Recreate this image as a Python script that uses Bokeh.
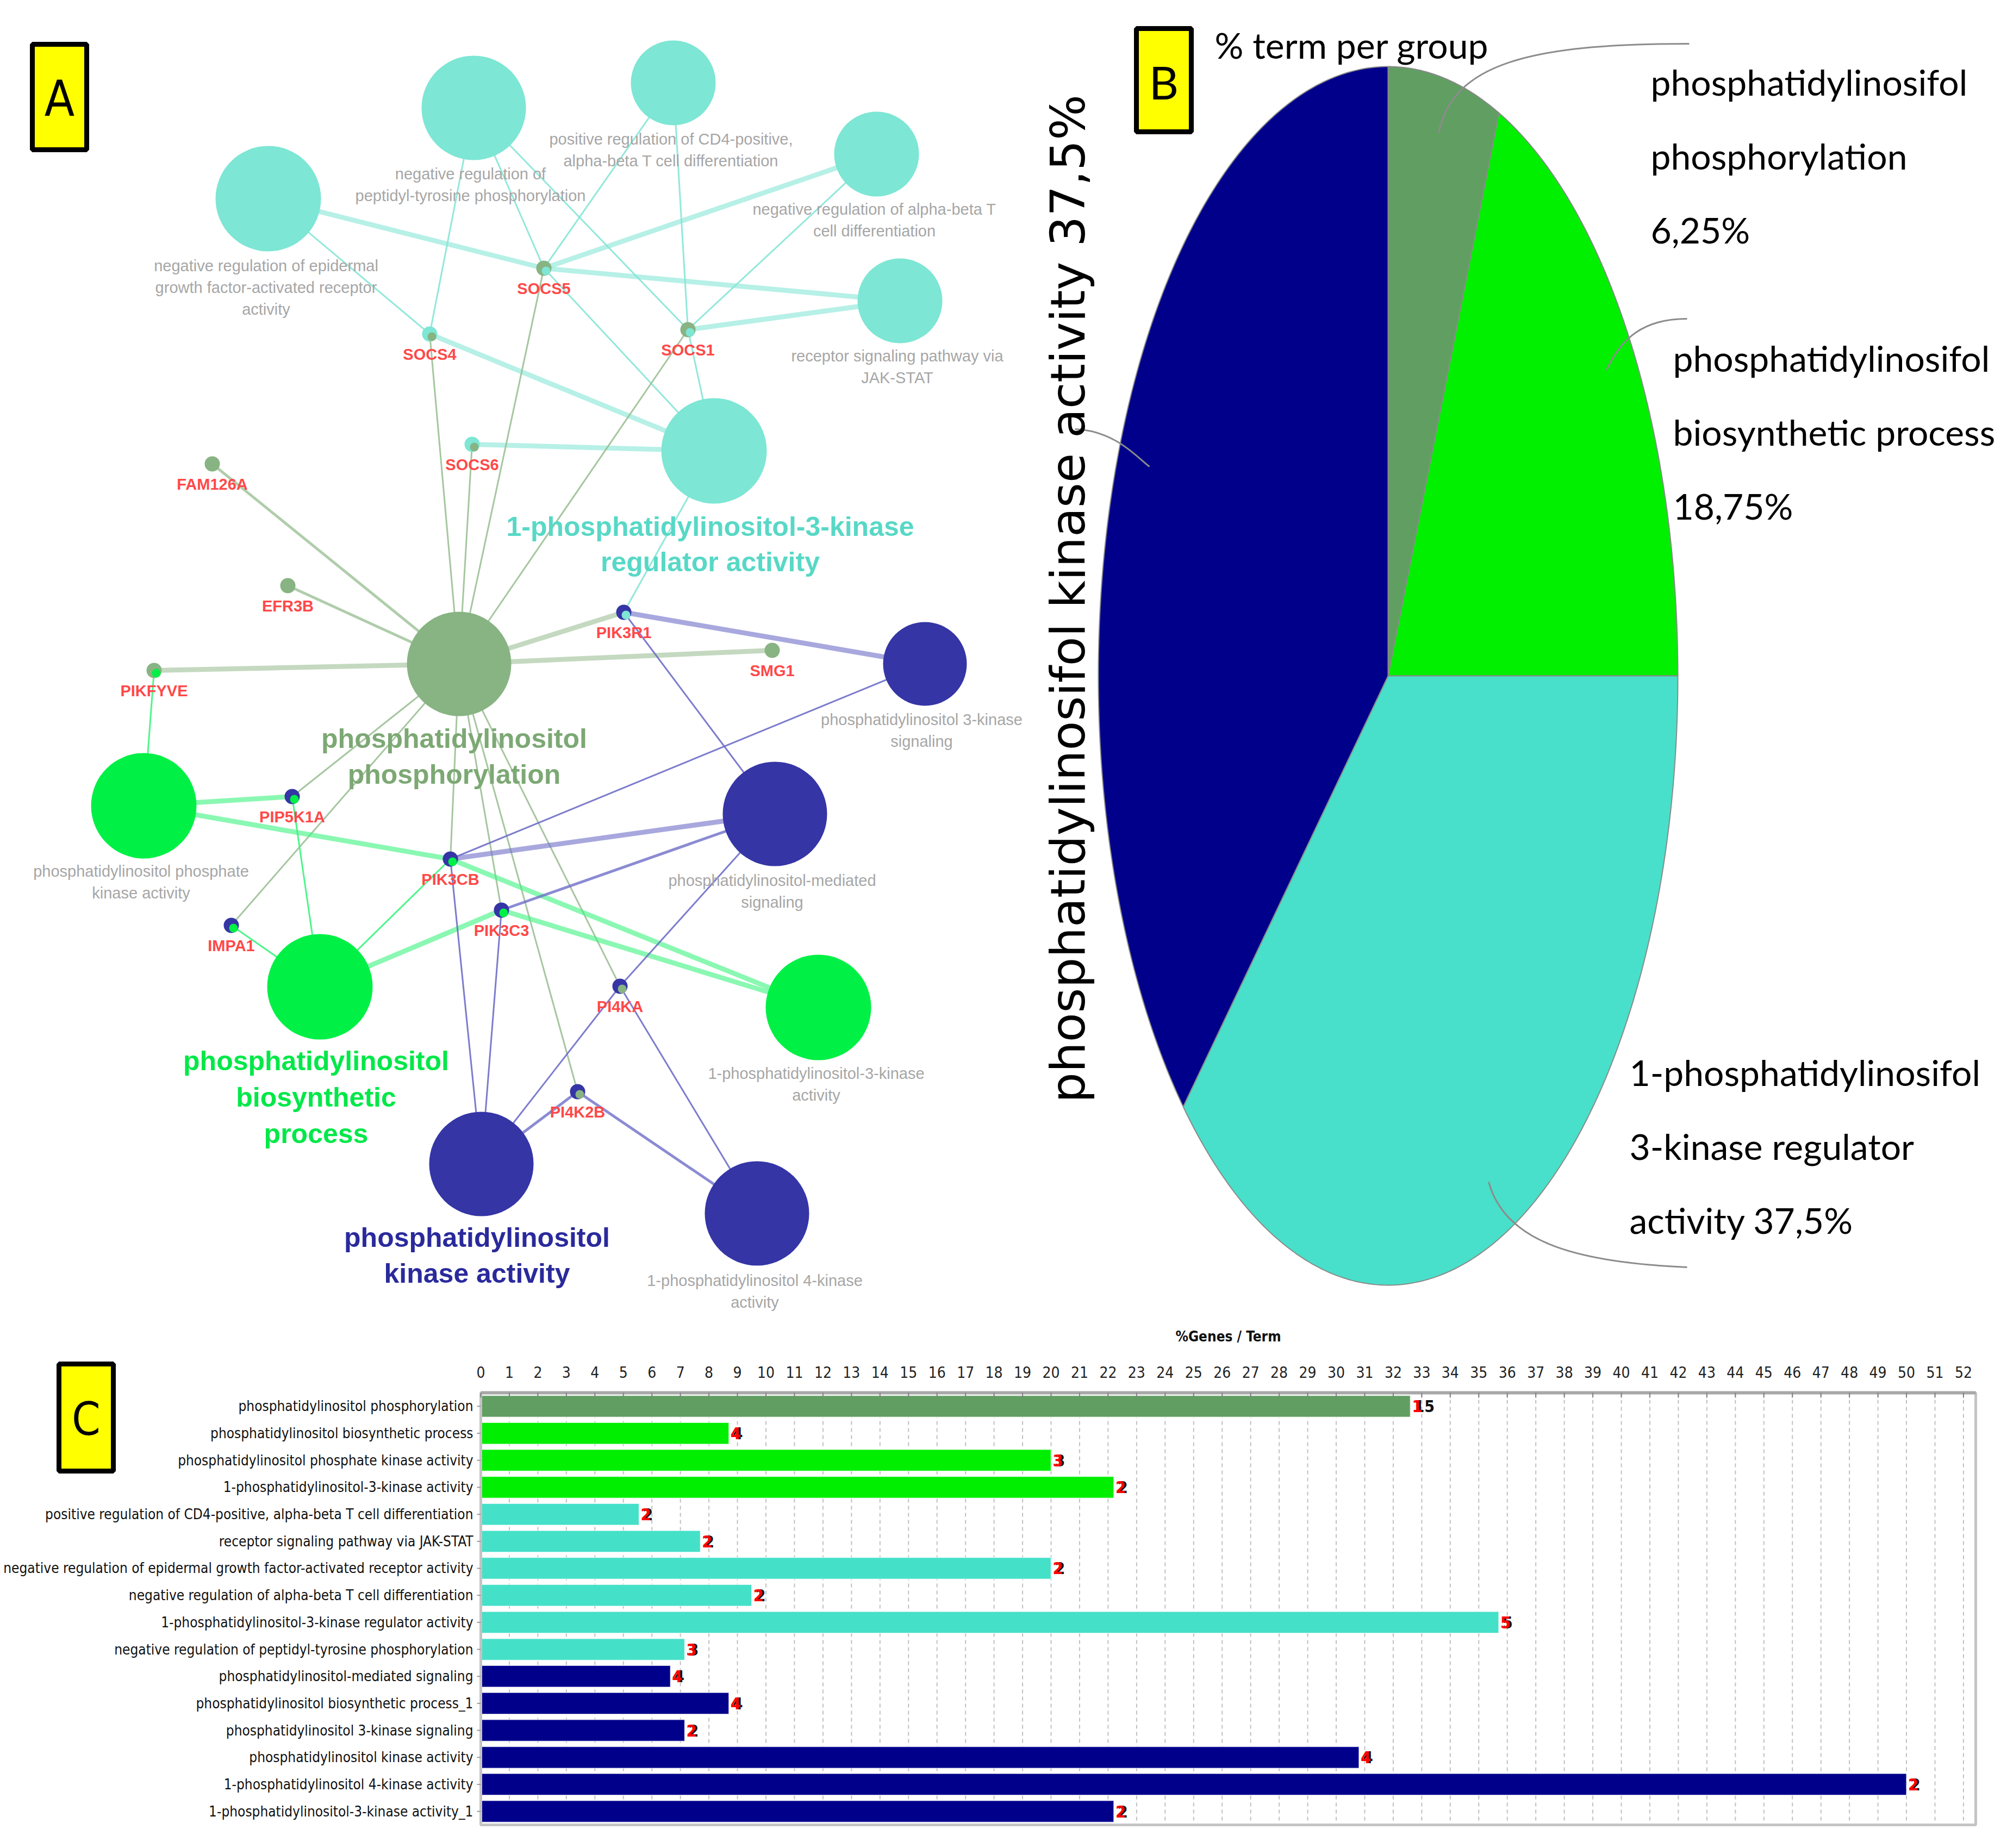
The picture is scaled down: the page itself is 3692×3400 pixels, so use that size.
import numpy as np
from bokeh.plotting import figure
from bokeh.layouts import column, row
from bokeh.models import Range1d
from bokeh.core.properties import value
from bokeh.embed import file_html
from bokeh.resources import INLINE

# ------------------------------------------------------------------ data
# Panel C : %Genes / Term
terms = [
    "phosphatidylinositol phosphorylation",
    "phosphatidylinositol biosynthetic process",
    "phosphatidylinositol phosphate kinase activity",
    "1-phosphatidylinositol-3-kinase activity",
    "positive regulation of CD4-positive, alpha-beta T cell differentiation",
    "receptor signaling pathway via JAK-STAT",
    "negative regulation of epidermal growth factor-activated receptor activity",
    "negative regulation of alpha-beta T cell differentiation",
    "1-phosphatidylinositol-3-kinase regulator activity",
    "negative regulation of peptidyl-tyrosine phosphorylation",
    "phosphatidylinositol-mediated signaling",
    "phosphatidylinositol biosynthetic process_1",
    "phosphatidylinositol 3-kinase signaling",
    "phosphatidylinositol kinase activity",
    "1-phosphatidylinositol 4-kinase activity",
    "1-phosphatidylinositol-3-kinase activity_1",
]
pct_genes = [32.6, 8.7, 20.0, 22.2, 5.55, 7.7, 20.0, 9.5, 35.7, 7.15, 6.65, 8.7, 7.15, 30.8, 50.0, 22.2]
gene_counts = [15, 4, 3, 2, 2, 2, 2, 2, 5, 3, 4, 4, 2, 4, 2, 2]
term_groups = ["phos", "bio", "bio", "bio", "reg", "reg", "reg", "reg", "reg", "reg",
               "kin", "kin", "kin", "kin", "kin", "kin"]
x_ticks = list(range(0, 53))
x_max = 52.43

# Panel B : % term per group
pie_groups = ["phos", "bio", "reg", "kin"]
pie_pct = [6.25, 18.75, 37.5, 37.5]
pie_labels = [
    ["phosphatidylinosifol", "phosphorylation", "6,25%"],
    ["phosphatidylinosifol", "biosynthetic process", "18,75%"],
    ["1-phosphatidylinosifol", "3-kinase regulator", "activity 37,5%"],
    ["phosphatidylinosifol kinase activity 37,5%"],
]

# Panel A : network
term_nodes = ["egfr", "ptyr", "cd4", "abT", "jak", "reg", "phos",
              "pipk", "bio", "pi3k", "pi3ks", "pims", "kin", "pi4k"]
term_node_group = ["reg", "reg", "reg", "reg", "reg", "reg", "phos",
                   "bio", "bio", "bio", "kin", "kin", "kin", "kin"]
term_node_text = {
    "egfr": ["negative regulation of epidermal", "growth factor-activated receptor", "activity"],
    "ptyr": ["negative regulation of", "peptidyl-tyrosine phosphorylation"],
    "cd4": ["positive regulation of CD4-positive,", "alpha-beta T cell differentiation"],
    "abT": ["negative regulation of alpha-beta T", "cell differentiation"],
    "jak": ["receptor signaling pathway via", "JAK-STAT"],
    "pipk": ["phosphatidylinositol phosphate", "kinase activity"],
    "pi3k": ["1-phosphatidylinositol-3-kinase", "activity"],
    "pi3ks": ["phosphatidylinositol 3-kinase", "signaling"],
    "pims": ["phosphatidylinositol-mediated", "signaling"],
    "pi4k": ["1-phosphatidylinositol 4-kinase", "activity"],
}
group_leader_text = {
    "reg": ["1-phosphatidylinositol-3-kinase", "regulator activity"],
    "phos": ["phosphatidylinositol", "phosphorylation"],
    "bio": ["phosphatidylinositol", "biosynthetic", "process"],
    "kin": ["phosphatidylinositol", "kinase activity"],
}
genes = ["SOCS5", "SOCS4", "SOCS1", "SOCS6", "FAM126A", "EFR3B", "PIK3R1", "SMG1",
         "PIKFYVE", "PIP5K1A", "PIK3CB", "PIK3C3", "IMPA1", "PI4KA", "PI4K2B"]
gene_groups = [("phos", "reg"), ("reg", "phos"), ("phos", "reg"), ("reg", "phos"), ("phos",), ("phos",),
               ("kin", "reg"), ("phos",), ("phos", "bio"), ("kin", "bio"), ("kin", "bio"),
               ("kin", "bio"), ("kin", "bio"), ("kin", "phos"), ("kin", "phos")]
edges = [
    ("egfr", "SOCS5", 3), ("egfr", "SOCS4", 1), ("ptyr", "SOCS4", 1), ("ptyr", "SOCS5", 1),
    ("ptyr", "SOCS1", 1), ("cd4", "SOCS5", 1), ("cd4", "SOCS1", 1), ("abT", "SOCS5", 3),
    ("abT", "SOCS1", 1), ("jak", "SOCS5", 3), ("jak", "SOCS1", 3), ("reg", "SOCS4", 3),
    ("reg", "SOCS5", 1), ("reg", "SOCS1", 1), ("reg", "SOCS6", 3), ("reg", "PIK3R1", 1),
    ("phos", "SOCS4", 1), ("phos", "SOCS5", 1), ("phos", "SOCS1", 1), ("phos", "SOCS6", 1),
    ("phos", "FAM126A", 2), ("phos", "EFR3B", 2), ("phos", "PIK3R1", 3), ("phos", "SMG1", 3),
    ("phos", "PIKFYVE", 3), ("phos", "PIP5K1A", 1), ("phos", "IMPA1", 1), ("phos", "PIK3CB", 1),
    ("phos", "PIK3C3", 1), ("phos", "PI4KA", 1), ("phos", "PI4K2B", 1),
    ("pipk", "PIKFYVE", 1), ("pipk", "PIP5K1A", 3), ("pipk", "PIK3CB", 3), ("pi3k", "PIK3CB", 3),
    ("bio", "PIP5K1A", 1), ("bio", "PIK3CB", 1), ("bio", "PIK3C3", 3), ("pi3k", "PIK3C3", 3),
    ("bio", "IMPA1", 1),
    ("pi3ks", "PIK3R1", 3), ("pi3ks", "PIK3CB", 1), ("pims", "PIK3R1", 1), ("pims", "PIK3CB", 3),
    ("pims", "PIK3C3", 2), ("pims", "PI4KA", 1), ("kin", "PIK3CB", 1), ("kin", "PIK3C3", 1),
    ("kin", "PI4KA", 1), ("kin", "PI4K2B", 2), ("pi4k", "PI4KA", 1), ("pi4k", "PI4K2B", 2),
]

# ------------------------------------------------------------------ layout / styles
node_pos = {
    "egfr": (501, 373, 97), "ptyr": (879, 206, 96), "cd4": (1246, 160, 78), "abT": (1620, 291, 78),
    "jak": (1663, 561, 78), "reg": (1321, 837, 97), "phos": (852, 1229, 96), "pipk": (272, 1490, 97),
    "bio": (596, 1823, 97), "pi3k": (1513, 1861, 97), "pi3ks": (1709, 1229, 77),
    "pims": (1433, 1505, 96), "kin": (893, 2149, 96), "pi4k": (1400, 2240, 96),
}
term_label_pos = {
    "egfr": (497, 496), "ptyr": (873, 327), "cd4": (1242, 263), "abT": (1616, 392),
    "jak": (1658, 662), "pipk": (267, 1610), "pi3k": (1509, 1982), "pi3ks": (1703, 1331),
    "pims": (1428, 1627), "pi4k": (1396, 2363),
}
leader_label_pos = {"reg": (1314, 976, 65), "phos": (843, 1366, 66), "bio": (589, 1959, 67),
                    "kin": (885, 2284, 66)}
gene_pos = {
    "SOCS5": (1008, 501), "SOCS4": (798, 622), "SOCS1": (1273, 614), "SOCS6": (876, 825),
    "FAM126A": (398, 861), "EFR3B": (537, 1085), "PIK3R1": (1155, 1134), "SMG1": (1428, 1204),
    "PIKFYVE": (291, 1241), "PIP5K1A": (545, 1473), "PIK3CB": (836, 1588), "PIK3C3": (930, 1682),
    "IMPA1": (433, 1710), "PI4KA": (1148, 1822), "PI4K2B": (1070, 2016),
}
node_color = {"reg": "#7DE6D4", "phos": "#88B383", "bio": "#00F046", "kin": "#3535A6"}
edge_color = {"reg": "#86E6D6", "phos": "#9CC096", "bio": "#3CF47E", "kin": "#6E6EC8"}
leader_color = {"reg": "#58D8C6", "phos": "#7CA874", "bio": "#00E848", "kin": "#2A2A9C"}
bar_color = {"phos": "#619E62", "bio": "#00EE00", "reg": "#45E0C8", "kin": "#00008B"}
pie_color = {"phos": "#619E62", "bio": "#00F000", "reg": "#48E0CA", "kin": "#00008B"}

NARROW = "DejaVu Sans Condensed, Liberation Sans"
TOP_H = 2432
BOT_H = 952


def stack_lines(x, y0, lines, dy):
    return [x] * len(lines), [y0 + i * dy for i in range(len(lines))], lines


def yellow_box(p, l, r, t, b, letter, font, size):
    p.quad(left=[l], right=[r], top=[t], bottom=[b], fill_color="#FFFF00", line_color="black",
           line_width=9)
    p.text(x=[(l + r) / 2], y=[(t + b) / 2], y_offset=3, text=[letter], text_align="center",
           text_baseline="middle", text_font=value(font), text_font_size=size, text_color="black")


def bare_fig(width, height, x_range, y_range):
    p = figure(width=width, height=height, x_range=x_range, y_range=y_range,
               toolbar_location=None, output_backend="svg", x_axis_location=None,
               y_axis_location=None, min_border=0, outline_line_color=None)
    p.grid.visible = False
    return p


# ------------------------------------------------------------------ Panel A
pA = bare_fig(1912, TOP_H, Range1d(8, 1920), Range1d(2440, 8))

node_group_of = dict(zip(term_nodes, term_node_group))
widths = {1: 3, 2: 5, 3: 9}
alphas = {1: 0.9, 2: 0.8, 3: 0.6}
for a, b, w in edges:
    g = node_group_of[a]
    xa, ya = node_pos[a][:2]
    xb, yb = gene_pos[b]
    pA.line([xa, xb], [ya, yb], line_color=edge_color[g], line_width=widths[w], line_alpha=alphas[w])

for n in term_nodes:
    x, y, r = node_pos[n]
    pA.scatter([x], [y], size=2 * r, marker="circle", fill_color=node_color[node_group_of[n]],
               line_color=None)

for gname, grp in zip(genes, gene_groups):
    x, y = gene_pos[gname]
    pA.scatter([x], [y], size=28, fill_color=node_color[grp[0]], line_color=None)
    if len(grp) > 1:
        pA.scatter([x + 4], [y + 5], size=16, fill_color=node_color[grp[1]], line_color=None)
    pA.text(x=[x], y=[y + 37], text=[gname], text_align="center", text_baseline="middle",
            text_font=value("Liberation Sans"), text_font_size="29px", text_color="#FF4848",
            text_font_style="bold")

for n, lines in term_node_text.items():
    x, y0 = term_label_pos[n]
    xs, ys, ts = stack_lines(x, y0, lines, 40)
    pA.text(x=xs, y=ys, text=ts, text_align="center", text_baseline="middle",
            text_font=value("Liberation Sans"), text_font_size="29px", text_color="#A6A6A6")

for g, lines in group_leader_text.items():
    x, y0, dy = leader_label_pos[g]
    xs, ys, ts = stack_lines(x, y0, lines, dy)
    pA.text(x=xs, y=ys, text=ts, text_align="center", text_baseline="middle",
            text_font=value("Liberation Sans"), text_font_size="50px", text_font_style="bold",
            text_color=leader_color[g])

yellow_box(pA, 67, 167, 89, 283, "A", NARROW, "90px")

# ------------------------------------------------------------------ Panel B
pB = bare_fig(1764, TOP_H, Range1d(1920, 3684), Range1d(2440, 8))

cx, cy, rx, ry = 2561, 1251, 533, 1121
frac = np.array(pie_pct) / np.sum(pie_pct)
ends = np.cumsum(frac) * 2 * np.pi
starts = np.concatenate([[0.0], ends[:-1]])
xs_all, ys_all, cols = [], [], []
for s, e, g in zip(starts, ends, pie_groups):
    t = np.linspace(s, e, 200)
    xs_all.append(np.concatenate([[cx], cx + rx * np.sin(t)]).tolist())
    ys_all.append(np.concatenate([[cy], cy - ry * np.cos(t)]).tolist())
    cols.append(pie_color[g])
pB.patches(xs_all, ys_all, fill_color=cols, line_color="#8A8A8A", line_width=2)

pB.bezier(x0=[3115, 3111, 1985, 2746], y0=[88, 594, 797, 2182],
          x1=[2654, 2963, 2122, 3111], y1=[252, 688, 866, 2339],
          cx0=[2820, 3030, 2060, 2775], cy0=[88, 594, 800, 2290],
          cx1=[2680, 2990, 2100, 2900], cy1=[125, 630, 850, 2330],
          line_color="#8C8C8C", line_width=3)

pie_font = value("Lato")
label_anchor = {"phos": (3044, 158), "bio": (3085, 666), "reg": (3005, 1980)}
for g, lines in zip(pie_groups[:3], pie_labels[:3]):
    x, y0 = label_anchor[g]
    xs, ys, ts = stack_lines(x, y0, lines, 136)
    pB.text(x=xs, y=ys, text=ts, text_align="left", text_baseline="middle", text_font=pie_font,
            text_font_size="66px", text_color="black")
pB.text(x=[1972], y=[1109], text=pie_labels[3], angle=np.pi / 2, text_align="center",
        text_baseline="middle", text_font=value("DejaVu Sans"), text_font_size="88px",
        text_color="black")
pB.text(x=[2242], y=[90], text=["% term per group"], text_align="left", text_baseline="middle",
        text_font=pie_font, text_font_size="66px", text_color="black")

yellow_box(pB, 2098, 2199, 60, 250, "B", "Lato", "84px")

# ------------------------------------------------------------------ Panel C
# value scale: 0 % at page x 892, x_max at page x 3642; rows: plot top 2570, bottom 3365
PX0, PX1, PY0, PY1 = 892, 3642, 2570, 3365
kx = x_max / (PX1 - PX0)
n_rows = len(terms)
row_px = (PY1 - PY0) / n_rows


def vx(px):
    return (px - PX0) * kx


def vy(py):
    return (py - PY0) / row_px


pC = bare_fig(3676, BOT_H, Range1d(vx(8), vx(3684)), Range1d(vy(3392), vy(2440)))
row_y = [i + 0.5 for i in range(n_rows)]

# dashed vertical grid
pC.segment(x0=x_ticks, x1=x_ticks, y0=[0] * len(x_ticks), y1=[n_rows] * len(x_ticks),
           line_color="#C0C0C0", line_width=2, line_dash="7 6")
# bars
pC.hbar(y=row_y, right=pct_genes, left=0, height=0.8,
        fill_color=[bar_color[g] for g in term_groups], line_color="white", line_width=1.5,
        line_alpha=0.7)
# plot box and top axis line with ticks
pC.quad(left=[0], right=[x_max], top=[0], bottom=[n_rows], fill_color=None,
        line_color="#C4C4C4", line_width=5)
pC.segment(x0=[0], x1=[x_max], y0=[0], y1=[0], line_color="#A8A8A8", line_width=6)
pC.segment(x0=x_ticks, x1=x_ticks, y0=[0] * len(x_ticks), y1=[vy(PY0 + 9)] * len(x_ticks),
           line_color="#808080", line_width=2)
pC.text(x=x_ticks, y=[vy(2532)] * len(x_ticks), text=[str(t) for t in x_ticks],
        text_align="center", text_baseline="middle", text_font=value(NARROW),
        text_font_size="28px", text_color="#222222")
pC.text(x=[x_max / 2], y=[vy(2466)], text=["%Genes / Term"], text_align="center",
        text_baseline="middle", text_font=value(NARROW), text_font_size="26px",
        text_font_style="bold", text_color="#111111")
# category labels with tick marks
pC.segment(x0=[vx(PX0 - 7)] * n_rows, x1=[0] * n_rows, y0=row_y, y1=row_y,
           line_color="#999999", line_width=2)
pC.text(x=[0] * n_rows, y=row_y, text=terms, x_offset=-14, text_align="right",
        text_baseline="middle", text_font=value(NARROW), text_font_size="26px",
        text_color="#111111")
# gene counts at bar ends
lbl = [str(c) for c in gene_counts]
pC.text(x=pct_genes, y=row_y, text=lbl, x_offset=7, text_align="left", text_baseline="middle",
        text_font=value(NARROW), text_font_size="30px", text_color="#111111",
        text_font_style="bold")
pC.text(x=pct_genes, y=row_y, text=[t[0] for t in lbl], x_offset=3, text_align="left",
        text_baseline="middle", text_font=value(NARROW), text_font_size="30px",
        text_color="#FF0000", text_font_style="bold")

yellow_box(pC, vx(116), vx(216), vy(2517), vy(2714), "C", NARROW, "84px")

layout = column(row(pA, pB), pC)
open("out.html", "w").write(file_html(layout, INLINE))
